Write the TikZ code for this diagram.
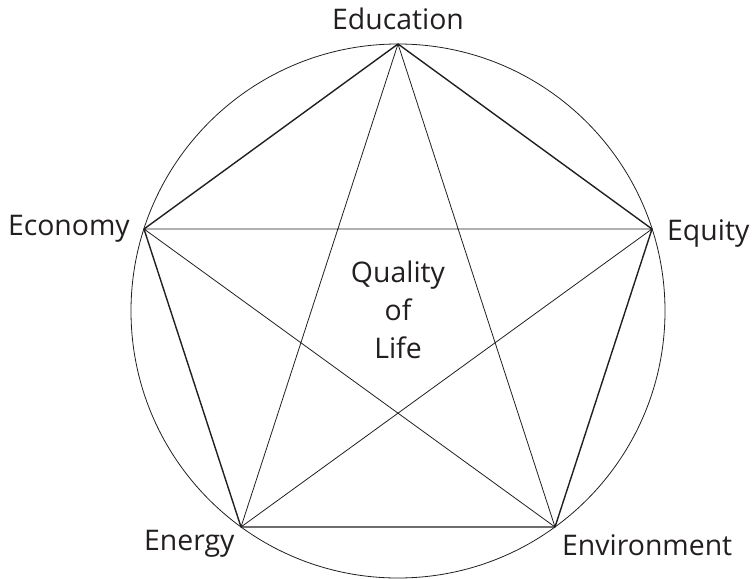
\documentclass[tikz,border=0pt]{standalone}
\usepackage{fontspec}
\setmainfont{Open Sans}
\definecolor{ink}{RGB}{35,31,32}
\begin{document}
\begin{tikzpicture}[x=1bp,y=-1bp,
  lbl/.style={text=ink,inner sep=0pt,font=\fontsize{28.5}{38}\selectfont},
  rim/.style={draw=ink,line width=0.8bp},
  side/.style={draw=ink,line width=1.4bp,line join=round},
  diag/.style={draw=ink,line width=0.8bp}]
\useasboundingbox (0,0) rectangle (754,579);
\coordinate (c) at (398,311);
\coordinate (edu) at (398,44);
\coordinate (eco) at (144,229);
\coordinate (equ) at (652,229);
\coordinate (ene) at (241,527);
\coordinate (env) at (555,527);
\draw[rim] (c) circle[radius=267];
\draw[side] (edu) -- (equ) -- (env) -- (ene) -- (eco) -- cycle;
\draw[diag] (edu) -- (ene) (edu) -- (env) (eco) -- (equ) (eco) -- (env) (equ) -- (ene);
\node[lbl,anchor=base] (tedu) at (398,30) {Education};
\node[lbl,anchor=base east] (teco) at (130,235) {Economy};
\node[lbl,anchor=base west] (tequ) at (667,240) {Equity};
\node[lbl,anchor=base west] (tene) at (144,550) {Energy};
\node[lbl,anchor=base west] (tenv) at (562,555) {Environment};
\node[lbl,align=center,anchor=north] (q) at (398,261) {Quality\\of\\Life};
\end{tikzpicture}
\end{document}
